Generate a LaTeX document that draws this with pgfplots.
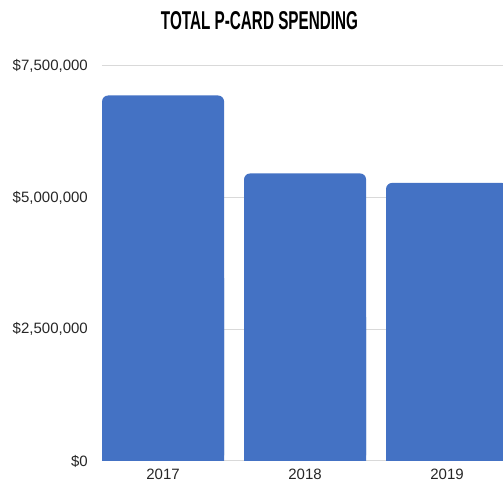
\documentclass[border=0pt]{standalone}
\usepackage{fontspec}
\setmainfont{Liberation Sans}
\usepackage{graphicx}
\usepackage{pgfplots}
\usepackage{pgfplotstable}
\pgfplotsset{compat=1.18}

\definecolor{barblue}{HTML}{4472C4}
\definecolor{gridgray}{HTML}{D9D9D9}

% spending per year (USD)
\pgfplotstableread{
x v
0 6940000
1 5460000
2 5280000
}\spending

\begin{document}
\fontsize{15pt}{18pt}\selectfont
\begin{tikzpicture}
\begin{axis}[
  name=ax,
  scale only axis,
  width=401pt, height=395pt,
  xmin=-0.43, xmax=2.394,
  ymin=0, ymax=7500000,
  ybar, bar width=122pt,
  axis line style={draw=none},
  major tick length=0pt,
  xtick={0,1,2},
  xticklabels={2017,2018,2019},
  ytick={0,2500000,5000000,7500000},
  yticklabels={\$0,{\$2,500,000},{\$5,000,000},{\$7,500,000}},
  scaled y ticks=false,
  /pgf/number format/assume math mode=true,
  ymajorgrids,
  major grid style={gridgray, line width=1pt},
  tick label style={font=\fontsize{15pt}{18pt}\selectfont, text=black!85},
  xticklabel style={yshift=-3pt},
  yticklabel style={xshift=-9pt},
  clip=true,
]
\addplot[fill=barblue, draw=none, bar shift=0pt, rounded corners=6pt]
  table[x=x, y=v] {\spending};
\addplot[fill=barblue, draw=none, bar shift=0pt]
  table[x=x, y expr=\thisrow{v}/2] {\spending};
\end{axis}
\node at ([xshift=157.5pt, yshift=45pt]ax.north west)
  {\resizebox{197pt}{18pt}{\bfseries TOTAL P-CARD SPENDING}};
\pgfresetboundingbox
\path[use as bounding box]
  ([xshift=-102pt, yshift=-25pt]ax.south west) rectangle
  ([yshift=66pt]ax.north east);
\end{tikzpicture}
\end{document}
